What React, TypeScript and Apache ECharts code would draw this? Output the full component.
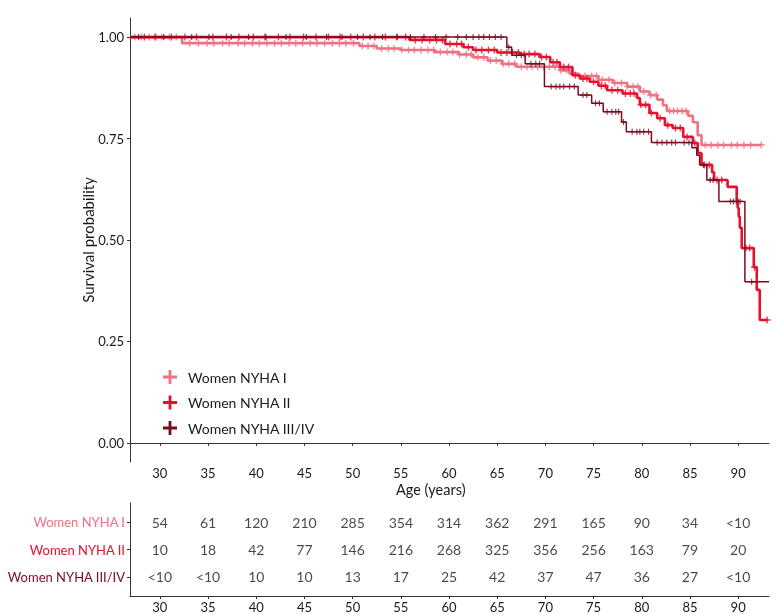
import React, { useEffect, useRef } from "react";
import * as echarts from "echarts";

const FONT = "Lato, 'Open Sans', sans-serif";
const X_MIN = 26.9;
const X_MAX = 93.2;
const xTicks = [30, 35, 40, 45, 50, 55, 60, 65, 70, 75, 80, 85, 90];
const yTicks = [0, 0.25, 0.5, 0.75, 1];

const seriesNames = ["Women NYHA I", "Women NYHA II", "Women NYHA III/IV"];
const seriesColors = ["#F07282", "#E5112E", "#7A0B1F"];

// Kaplan-Meier steps (age where survival changes, survival after it)
const pinkAge = [26.9, 32.3, 50.7, 52.5, 55.0, 58.5, 61.0, 62.5, 64.0, 65.5, 67.0, 71.5, 72.5, 73.4, 75.5, 77.0, 78.5, 79.8, 80.8, 81.6, 82.2, 82.6, 84.8, 85.3, 85.8, 86.2, 92.4];
const pinkSurv = [1.0, 0.985, 0.978, 0.972, 0.968, 0.963, 0.957, 0.95, 0.942, 0.934, 0.927, 0.918, 0.91, 0.904, 0.895, 0.887, 0.878, 0.866, 0.857, 0.846, 0.832, 0.818, 0.806, 0.79, 0.758, 0.734, 0.734];

const redAge = [26.9, 55.9, 59.6, 61.5, 62.5, 65.0, 67.3, 69.4, 70.5, 71.5, 72.8, 73.6, 74.6, 75.5, 76.4, 78.0, 79.5, 79.8, 80.8, 81.6, 82.4, 83.2, 84.3, 85.3, 85.8, 86.2, 87.3, 87.5, 88.9, 89.85, 89.95, 90.06, 90.17, 90.37, 91.62, 91.93, 92.24, 93.07];
const redSurv = [1.0, 0.993, 0.983, 0.975, 0.968, 0.962, 0.958, 0.951, 0.938, 0.926, 0.906, 0.898, 0.89, 0.88, 0.869, 0.861, 0.85, 0.833, 0.813, 0.8, 0.783, 0.776, 0.754, 0.739, 0.714, 0.685, 0.667, 0.648, 0.631, 0.6, 0.579, 0.557, 0.53, 0.48, 0.433, 0.377, 0.303, 0.303];

const darkAge = [26.9, 66.0, 66.5, 67.9, 69.9, 73.4, 74.8, 76.0, 77.9, 78.4, 81.0, 85.2, 85.7, 86.0, 86.75, 88.0, 90.7, 93.2];
const darkSurv = [1.0, 0.975, 0.955, 0.934, 0.878, 0.857, 0.837, 0.816, 0.791, 0.767, 0.74, 0.727, 0.709, 0.685, 0.648, 0.595, 0.397, 0.397];

// censoring ages
const pinkCens = [27.4, 28.1, 28.9, 29.6, 30.2, 31.0, 31.7, 33.1, 34.0, 34.9, 35.6, 36.5, 37.2, 38.1, 38.8, 39.6, 40.3, 41.1, 41.9, 42.6, 43.4, 44.1, 44.8, 45.6, 46.3, 47.1, 47.9, 48.6, 49.3, 50.1, 51.0, 51.6, 52.2, 53.0, 53.7, 54.3, 55.1, 55.8, 56.4, 57.1, 57.8, 58.4, 59.1, 59.8, 60.4, 61.1, 61.8, 62.3, 63.0, 63.6, 64.3, 64.9, 65.6, 66.2, 66.8, 67.5, 68.1, 68.6, 69.2, 69.8, 70.4, 71.0, 71.6, 72.2, 72.9, 73.5, 74.1, 74.8, 75.3, 75.9, 76.6, 77.2, 77.9, 78.5, 79.1, 79.6, 80.2, 80.9, 81.5, 82.9, 83.3, 83.7, 84.2, 84.6, 86.6, 87.2, 87.9, 88.5, 89.3, 89.9, 90.6, 91.3, 92.4];
const redCens = [28.4, 29.5, 31.2, 32.6, 33.8, 35.5, 36.9, 38.2, 39.7, 40.9, 42.3, 43.5, 44.9, 46.2, 47.5, 48.7, 49.8, 51.1, 52.3, 53.4, 54.6, 55.5, 56.5, 57.2, 58.0, 58.7, 59.3, 60.1, 60.8, 61.3, 62.0, 62.8, 63.4, 64.1, 64.7, 65.4, 66.0, 66.6, 67.2, 67.8, 68.3, 68.9, 69.6, 70.1, 70.8, 71.2, 71.9, 72.4, 73.1, 73.9, 74.3, 75.0, 75.8, 76.2, 76.9, 77.5, 78.3, 78.8, 79.2, 79.9, 80.4, 81.0, 81.9, 82.7, 83.5, 84.0, 84.7, 85.5, 86.5, 87.0, 87.8, 88.3, 90.8, 91.2, 91.7, 93.0];
const darkCens = [27.8, 30.4, 33.3, 35.1, 37.4, 39.2, 41.0, 43.1, 45.2, 47.3, 48.9, 50.5, 51.8, 53.1, 54.6, 56.0, 57.4, 58.6, 59.7, 60.9, 61.8, 62.5, 63.1, 63.6, 64.2, 64.8, 65.4, 66.2, 67.0, 67.5, 68.5, 69.0, 69.4, 70.6, 71.1, 71.5, 71.9, 72.5, 73.0, 73.9, 74.3, 75.2, 75.6, 76.4, 76.9, 77.3, 77.6, 78.1, 79.0, 79.5, 79.8, 80.2, 80.7, 81.6, 82.1, 82.6, 83.1, 83.5, 84.4, 84.9, 86.4, 87.1, 87.4, 89.2, 89.5, 89.8, 90.2, 91.4];

// number at risk table
const riskAges = [30, 35, 40, 45, 50, 55, 60, 65, 70, 75, 80, 85, 90];
const riskI = ["54", "61", "120", "210", "285", "354", "314", "362", "291", "165", "90", "34", "<10"];
const riskII = ["10", "18", "42", "77", "146", "216", "268", "325", "356", "256", "163", "79", "20"];
const riskIII = ["<10", "<10", "10", "10", "13", "17", "25", "42", "37", "47", "36", "27", "<10"];

const PLUS = "path://M4,0H6V4H10V6H6V10H4V6H0V4H4Z";

function survAt(ages: number[], surv: number[], t: number) {
  let s = surv[0];
  for (let i = 0; i < ages.length; i++) if (ages[i] <= t) s = surv[i];
  return s;
}

export default function App() {
  const ref = useRef<HTMLDivElement>(null);
  useEffect(() => {
    if (!ref.current) return;
    const chart = echarts.init(ref.current, undefined, { renderer: "svg" });
    const curves = [
      [pinkAge, pinkSurv, pinkCens],
      [redAge, redSurv, redCens],
      [darkAge, darkSurv, darkCens],
    ] as number[][][];
    const widths = [2.6, 2.6, 1.5];
    const series: any[] = [];
    curves.forEach((c, i) => {
      series.push({
        type: "line",
        name: seriesNames[i],
        xAxisIndex: 0,
        yAxisIndex: 0,
        step: "end",
        showSymbol: false,
        symbol: "none",
        color: seriesColors[i],
        lineStyle: { color: seriesColors[i], width: widths[i] },
        data: c[0].map((a, j) => [a, c[1][j]]),
        z: 2 + i,
      });
      series.push({
        type: "scatter",
        name: seriesNames[i],
        xAxisIndex: 0,
        yAxisIndex: 0,
        symbol: PLUS,
        symbolSize: i === 2 ? 6 : 7,
        color: seriesColors[i],
        itemStyle: { color: seriesColors[i] },
        data: c[2].map((t) => [t, survAt(c[0], c[1], t)]),
        z: 2 + i,
      });
    });
    const rows = [riskI, riskII, riskIII];
    rows.forEach((r, i) => {
      series.push({
        type: "scatter",
        xAxisIndex: 1,
        yAxisIndex: 1,
        symbol: "circle",
        symbolSize: 1,
        itemStyle: { color: "rgba(0,0,0,0)" },
        label: {
          show: true,
          position: "inside",
          formatter: "{b}",
          color: "#1a1a1a",
          fontSize: 14,
          fontFamily: FONT,
        },
        data: r.map((v, j) => ({ value: [riskAges[j], 3 - i], name: v })),
      });
    });
    const axisLine = { show: true, lineStyle: { color: "#333", width: 1 } };
    const axisTick = { show: true, length: 3, lineStyle: { color: "#333" } };
    const xLabel = { customValues: xTicks, color: "#1a1a1a", fontSize: 13, fontFamily: FONT, margin: 4 };
    chart.setOption({
      animation: false,
      grid: [
        { left: 130, right: 7, top: 18, height: 444 },
        { left: 130, right: 7, top: 503, height: 93 },
      ],
      legend: {
        orient: "vertical",
        left: 158,
        top: 365,
        itemWidth: 14,
        itemHeight: 14,
        itemGap: 11.5,
        textStyle: { color: "#1a1a1a", fontSize: 14, fontFamily: FONT, padding: [0, 0, 0, 6] },
        data: seriesNames.map((n) => ({ name: n, icon: PLUS })),
        selectedMode: false,
      },
      xAxis: [
        {
          type: "value",
          gridIndex: 0,
          min: X_MIN,
          max: X_MAX,
          axisLine,
          axisTick: { ...axisTick, customValues: xTicks },
          axisLabel: xLabel,
          splitLine: { show: false },
        },
        {
          type: "value",
          gridIndex: 1,
          min: X_MIN,
          max: X_MAX,
          axisLine,
          axisTick: { ...axisTick, customValues: xTicks },
          axisLabel: xLabel,
          splitLine: { show: false },
        },
      ],
      yAxis: [
        {
          type: "value",
          gridIndex: 0,
          min: -0.047,
          max: 1.047,
          axisLine,
          axisTick: { ...axisTick, customValues: yTicks },
          axisLabel: {
            customValues: yTicks,
            color: "#1a1a1a",
            fontSize: 13,
            fontFamily: FONT,
            margin: 6,
            formatter: (v: number) => v.toFixed(2),
          },
          splitLine: { show: false },
        },
        {
          type: "value",
          gridIndex: 1,
          min: 0.3,
          max: 3.7,
          axisLine,
          axisTick: { ...axisTick, customValues: [1, 2, 3] },
          axisLabel: {
            customValues: [1, 2, 3],
            fontSize: 13,
            fontFamily: FONT,
            margin: 5,
            formatter: (v: number) => {
              const idx = 3 - Math.round(v);
              return `{r${idx}|${seriesNames[idx]}}`;
            },
            rich: {
              r0: { color: seriesColors[0], fontSize: 13, fontFamily: FONT },
              r1: { color: seriesColors[1], fontSize: 13, fontFamily: FONT },
              r2: { color: seriesColors[2], fontSize: 13, fontFamily: FONT },
            },
          },
          splitLine: { show: false },
        },
      ],
      graphic: [
        {
          type: "text",
          left: 396,
          top: 482,
          style: { text: "Age (years)", fill: "#1a1a1a", fontSize: 14.5, fontFamily: FONT },
        },
        {
          type: "text",
          x: 88,
          y: 240,
          rotation: Math.PI / 2,
          style: {
            text: "Survival probability",
            fill: "#1a1a1a",
            fontSize: 15,
            fontFamily: FONT,
            align: "center",
            verticalAlign: "middle",
          },
        },
      ],
      series,
    });
    return () => chart.dispose();
  }, []);
  return (
    <div
      ref={ref}
      style={{ position: "fixed", left: 0, top: 0, width: 776, height: 614 }}
    />
  );
}
